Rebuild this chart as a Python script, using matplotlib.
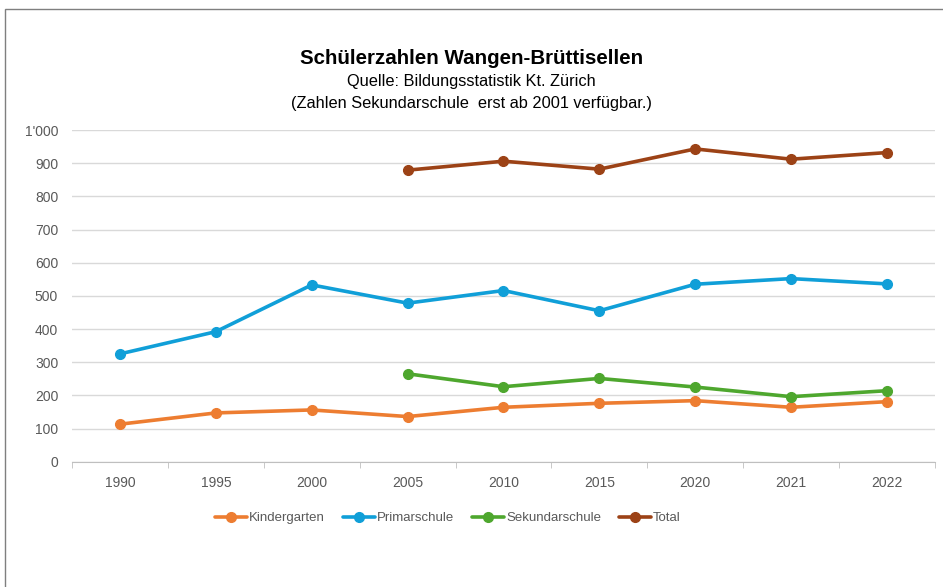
import numpy as np
import matplotlib.pyplot as plt
from matplotlib.patches import Rectangle
from matplotlib.ticker import FuncFormatter, MultipleLocator, FixedLocator

plt.rcParams['font.family'] = ['Liberation Sans Narrow', 'Liberation Sans', 'DejaVu Sans']

# ---------------------- Daten ----------------------
jahre = ["1990", "1995", "2000", "2005", "2010", "2015", "2020", "2021", "2022"]
kindergarten = [113, 147, 156, 136, 164, 176, 184, 164, 181]
primarschule = [325, 392, 533, 478, 516, 455, 535, 552, 536]
sekundarschule = [np.nan, np.nan, np.nan, 265, 226, 251, 225, 196, 214]
total = [np.nan, np.nan, np.nan, 879, 906, 882, 943, 912, 932]

serien = [
    ("Kindergarten", kindergarten, "#ED7D31"),
    ("Primarschule", primarschule, "#109FD8"),
    ("Sekundarschule", sekundarschule, "#4EA72E"),
    ("Total", total, "#9C4216"),
]

fig = plt.figure(figsize=(9.43, 5.87), dpi=100)
ax = fig.add_axes([0.0764, 0.2135, 0.915, 0.565])

x = np.arange(len(jahre))
for name, werte, farbe in serien:
    ax.plot(x, werte, color=farbe, lw=2.6, marker="o", ms=7, label=name,
            solid_capstyle="round", zorder=3)

ax.set_xlim(-0.5, len(jahre) - 0.5)
ax.set_ylim(0, 1000)
ax.yaxis.set_major_locator(MultipleLocator(100))
ax.yaxis.set_major_formatter(FuncFormatter(
    lambda v, p: f"{int(v):,}".replace(",", "'")))
ax.set_xticks(x)
ax.set_xticklabels(jahre)
ax.xaxis.set_minor_locator(FixedLocator(np.arange(-0.5, len(jahre), 1.0)))

ax.grid(axis="y", color="#D9D9D9", lw=1, zorder=0)
for s in ["top", "right", "left"]:
    ax.spines[s].set_visible(False)
ax.spines["bottom"].set_color("#BFBFBF")
ax.tick_params(axis="y", length=0, pad=10, labelsize=10, labelcolor="#595959")
ax.tick_params(axis="x", which="major", length=0, pad=10, labelsize=10,
               labelcolor="#595959")
ax.tick_params(axis="x", which="minor", length=4, color="#BFBFBF")

fig.text(0.5, 0.900, "Schülerzahlen Wangen-Brüttisellen", ha="center", va="center",
         fontsize=14.8, fontweight="bold")
fig.text(0.5, 0.862, "Quelle: Bildungsstatistik Kt. Zürich", ha="center", va="center",
         fontsize=11.8)
fig.text(0.5, 0.823, "(Zahlen Sekundarschule  erst ab 2001 verfügbar.)", ha="center",
         va="center", fontsize=11.8)

leg = fig.legend(loc="center", bbox_to_anchor=(0.475, 0.117), ncol=4, frameon=False,
                 fontsize=9.5, handlelength=2.4, handletextpad=0.15, columnspacing=1.4)
for t in leg.get_texts():
    t.set_color("#595959")

fig.patches.append(Rectangle((5 / 943, -0.05), 1.1, 1.05 - 9 / 587,
                             transform=fig.transFigure, fill=False,
                             edgecolor="#7F7F7F", lw=1))

fig.savefig("out.png", dpi=100)
